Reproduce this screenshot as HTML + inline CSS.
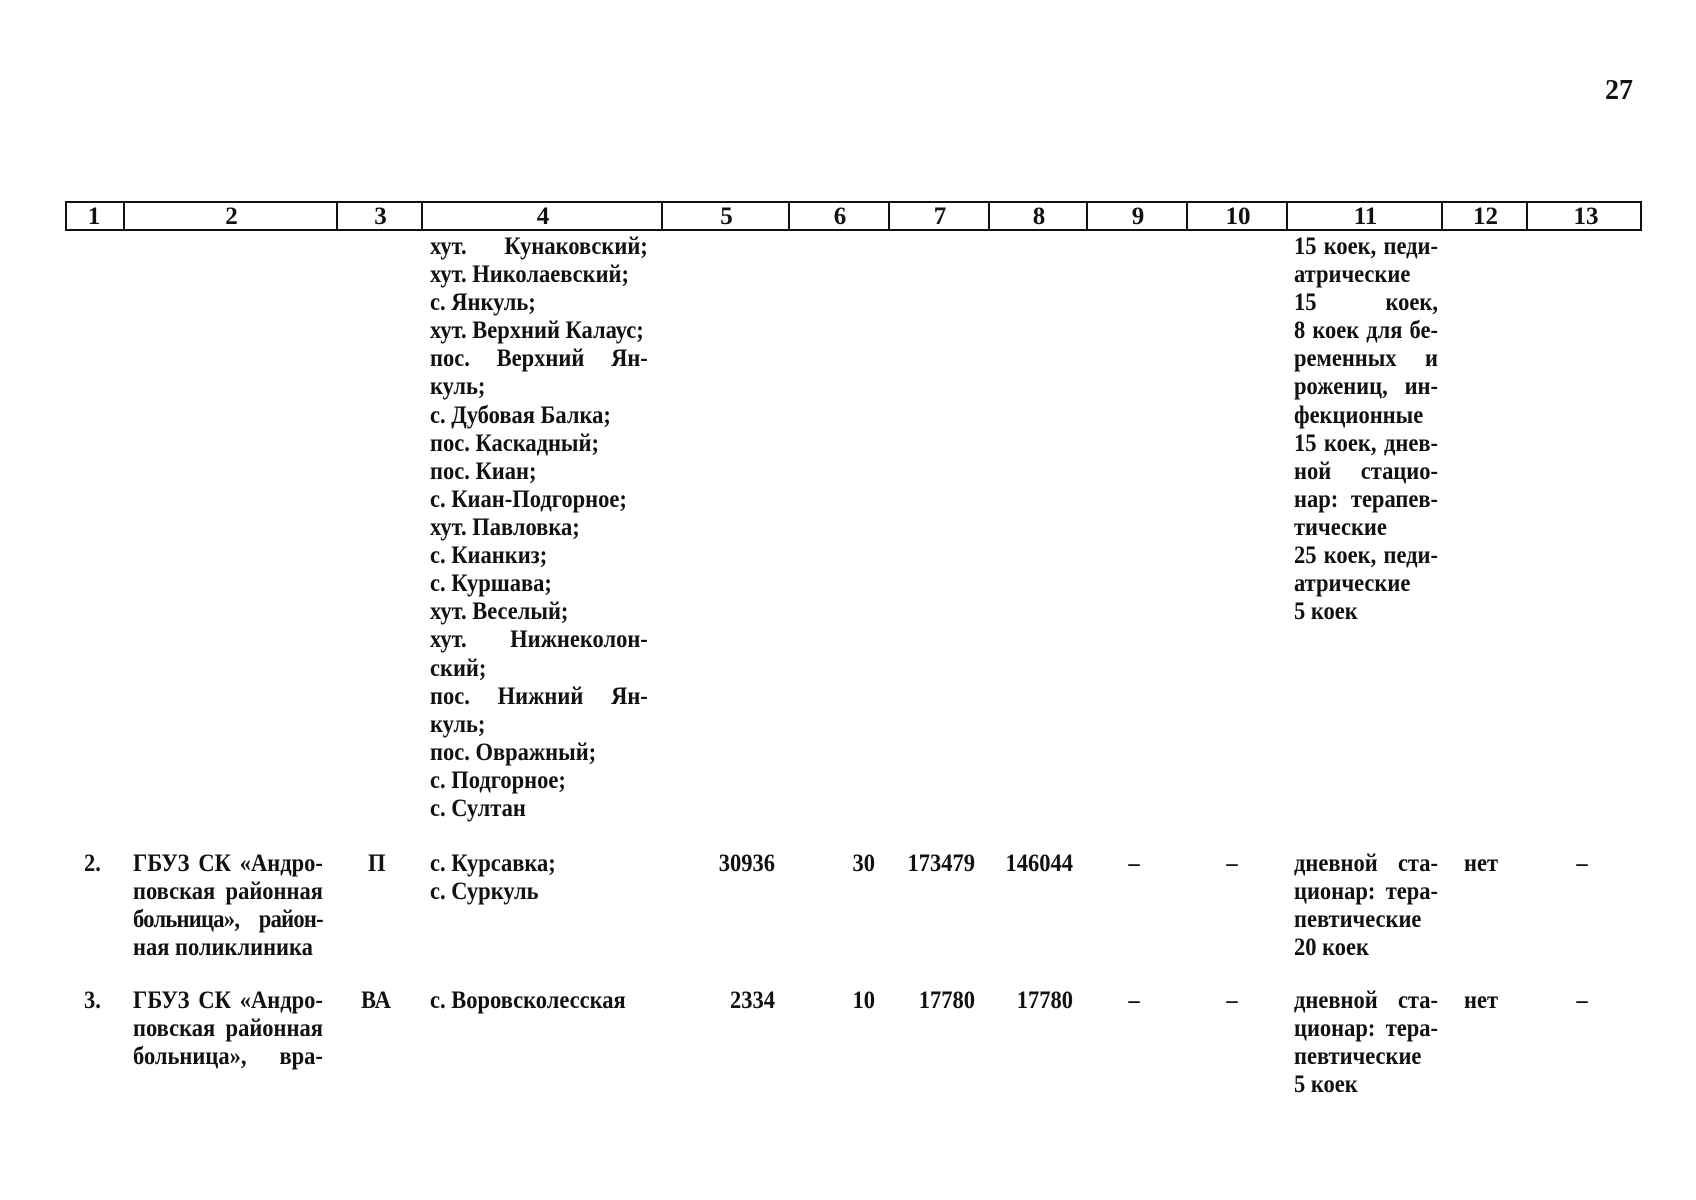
<!DOCTYPE html>
<html><head><meta charset="utf-8">
<style>
html,body{margin:0;padding:0;background:#fff;}
body{width:1696px;height:1200px;position:relative;overflow:hidden;color:#111;font-family:"Liberation Serif",serif;}
.l{position:absolute;font-size:25px;font-weight:bold;line-height:28px;white-space:nowrap;transform:scaleX(.9);transform-origin:0 0;}
.j{text-align:justify;text-align-last:justify;white-space:normal;}
.c4{width:242px;}
.c11{width:160px;}
.c2{width:211px;}
.r{text-align:right;width:150px;transform-origin:100% 0;}
.d{text-align:center;width:40px;transform-origin:50% 0;}
.hdr{position:absolute;left:65px;top:201px;width:1577px;height:30px;border:2px solid #111;box-sizing:border-box;}
.hc{position:absolute;top:0;height:26px;border-left:2px solid #111;font-size:25px;font-weight:bold;line-height:28px;text-align:center;}
</style></head><body>
<div class="l" style="left:1605px;top:77px;font-size:28px;transform:none">27</div>

<div class="hdr">
<div class="hc" style="left:-2px;width:58px;border-left:none">1</div>
<div class="hc" style="left:56px;width:213px">2</div>
<div class="hc" style="left:269px;width:85px">3</div>
<div class="hc" style="left:354px;width:240px">4</div>
<div class="hc" style="left:594px;width:127px">5</div>
<div class="hc" style="left:721px;width:100px">6</div>
<div class="hc" style="left:821px;width:100px">7</div>
<div class="hc" style="left:921px;width:98px">8</div>
<div class="hc" style="left:1019px;width:100px">9</div>
<div class="hc" style="left:1119px;width:100px">10</div>
<div class="hc" style="left:1219px;width:155px">11</div>
<div class="hc" style="left:1374px;width:85px">12</div>
<div class="hc" style="left:1459px;width:116px">13</div>
</div>

<div class="l c4 j" style="left:430px;top:233px">хут. Кунаковский;</div>
<div class="l" style="left:430px;top:261px">хут. Николаевский;</div>
<div class="l" style="left:430px;top:289px">с. Янкуль;</div>
<div class="l" style="left:430px;top:317px">хут. Верхний Калаус;</div>
<div class="l c4 j" style="left:430px;top:345px">пос. Верхний Ян-</div>
<div class="l" style="left:430px;top:373px">куль;</div>
<div class="l" style="left:430px;top:402px">с. Дубовая Балка;</div>
<div class="l" style="left:430px;top:430px">пос. Каскадный;</div>
<div class="l" style="left:430px;top:458px">пос. Киан;</div>
<div class="l" style="left:430px;top:486px">с. Киан-Подгорное;</div>
<div class="l" style="left:430px;top:514px">хут. Павловка;</div>
<div class="l" style="left:430px;top:542px">с. Кианкиз;</div>
<div class="l" style="left:430px;top:570px">с. Куршава;</div>
<div class="l" style="left:430px;top:598px">хут. Веселый;</div>
<div class="l c4 j" style="left:430px;top:626px">хут. Нижнеколон-</div>
<div class="l" style="left:430px;top:655px">ский;</div>
<div class="l c4 j" style="left:430px;top:683px">пос. Нижний Ян-</div>
<div class="l" style="left:430px;top:711px">куль;</div>
<div class="l" style="left:430px;top:739px">пос. Овражный;</div>
<div class="l" style="left:430px;top:767px">с. Подгорное;</div>
<div class="l" style="left:430px;top:795px">с. Султан</div>

<div class="l c11 j" style="left:1294px;top:233px">15 коек, педи-</div>
<div class="l" style="left:1294px;top:261px">атрические</div>
<div class="l c11 j" style="left:1294px;top:289px">15 коек,</div>
<div class="l c11 j" style="left:1294px;top:317px">8 коек для бе-</div>
<div class="l c11 j" style="left:1294px;top:345px">ременных и</div>
<div class="l c11 j" style="left:1294px;top:373px">рожениц, ин-</div>
<div class="l" style="left:1294px;top:402px">фекционные</div>
<div class="l c11 j" style="left:1294px;top:430px">15 коек, днев-</div>
<div class="l c11 j" style="left:1294px;top:458px">ной стацио-</div>
<div class="l c11 j" style="left:1294px;top:486px">нар: терапев-</div>
<div class="l" style="left:1294px;top:514px">тические</div>
<div class="l c11 j" style="left:1294px;top:542px">25 коек, педи-</div>
<div class="l" style="left:1294px;top:570px">атрические</div>
<div class="l" style="left:1294px;top:598px">5 коек</div>

<div class="l" style="left:84px;top:850px">2.</div>
<div class="l c2 j" style="left:133px;top:850px">ГБУЗ СК «Андро-</div>
<div class="l c2 j" style="left:133px;top:878px">повская районная</div>
<div class="l c2 j" style="left:133px;top:906px;letter-spacing:-0.8px">больница», район-</div>
<div class="l" style="left:133px;top:934px">ная поликлиника</div>
<div class="l" style="left:368px;top:850px">П</div>
<div class="l" style="left:430px;top:850px">с. Курсавка;</div>
<div class="l" style="left:430px;top:878px">с. Суркуль</div>
<div class="l r" style="left:625px;top:850px">30936</div>
<div class="l r" style="left:725px;top:850px">30</div>
<div class="l r" style="left:825px;top:850px">173479</div>
<div class="l r" style="left:923px;top:850px">146044</div>
<div class="l d" style="left:1114px;top:850px">–</div>
<div class="l d" style="left:1212px;top:850px">–</div>
<div class="l c11 j" style="left:1294px;top:850px">дневной ста-</div>
<div class="l c11 j" style="left:1294px;top:878px">ционар: тера-</div>
<div class="l" style="left:1294px;top:906px">певтические</div>
<div class="l" style="left:1294px;top:934px">20 коек</div>
<div class="l" style="left:1464px;top:850px">нет</div>
<div class="l d" style="left:1562px;top:850px">–</div>

<div class="l" style="left:84px;top:987px">3.</div>
<div class="l c2 j" style="left:133px;top:987px">ГБУЗ СК «Андро-</div>
<div class="l c2 j" style="left:133px;top:1015px">повская районная</div>
<div class="l c2 j" style="left:133px;top:1043px">больница», вра-</div>
<div class="l" style="left:361px;top:987px">ВА</div>
<div class="l" style="left:430px;top:987px">с. Воровсколесская</div>
<div class="l r" style="left:625px;top:987px">2334</div>
<div class="l r" style="left:725px;top:987px">10</div>
<div class="l r" style="left:825px;top:987px">17780</div>
<div class="l r" style="left:923px;top:987px">17780</div>
<div class="l d" style="left:1114px;top:987px">–</div>
<div class="l d" style="left:1212px;top:987px">–</div>
<div class="l c11 j" style="left:1294px;top:987px">дневной ста-</div>
<div class="l c11 j" style="left:1294px;top:1015px">ционар: тера-</div>
<div class="l" style="left:1294px;top:1043px">певтические</div>
<div class="l" style="left:1294px;top:1071px">5 коек</div>
<div class="l" style="left:1464px;top:987px">нет</div>
<div class="l d" style="left:1562px;top:987px">–</div>
</body></html>
